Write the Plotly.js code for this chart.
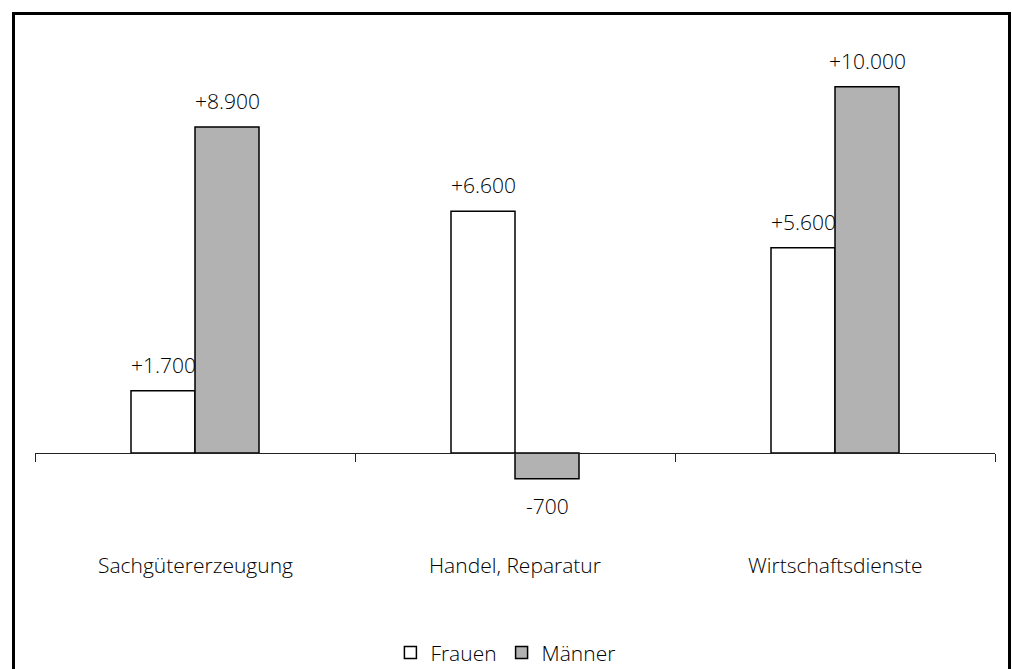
<!DOCTYPE html>
<html>
<head>
<meta charset="utf-8">
<script src="https://cdn.plot.ly/plotly-3.0.1.min.js"></script>
<style>
  html, body { margin: 0; padding: 0; background: #fff; overflow: hidden; }
  #chart { width: 1012px; height: 669px; }
  #frame {
    position: absolute; left: 12px; top: 12px;
    width: 993px; height: 700px;
    border: 3px solid #000; pointer-events: none;
  }
</style>
</head>
<body>
<div id="chart"></div>
<div id="frame"></div>
<script>
// Sectors and employment change by sex
const categories = ['Sachgütererzeugung', 'Handel, Reparatur', 'Wirtschaftsdienste'];
const frauen = [1700, 6600, 5600];
const maenner = [8900, -700, 10000];

const yRange = [-2700, 11000];
const barGap = 0.6;
const barWidth = (1 - barGap) / 2;   // width of one bar in category units
const FONT = 'Open Sans, DejaVu Sans, sans-serif';
const TEXT = '#000';
const FSIZE = 21;

// German number format with explicit sign: +8.900, -700
function fmt(v) {
  const s = Math.abs(v).toString().replace(/\B(?=(\d{3})+(?!\d))/g, '.');
  return (v < 0 ? '-' : '+') + s;
}

const idx = categories.map((_, i) => i);

const traces = [
  {
    type: 'bar', name: 'Frauen', x: idx, y: frauen,
    marker: { color: '#ffffff', line: { color: '#000', width: 1.5 } },
    hoverinfo: 'skip'
  },
  {
    type: 'bar', name: 'Männer', x: idx, y: maenner,
    marker: { color: '#b2b2b2', line: { color: '#000', width: 1.5 } },
    hoverinfo: 'skip'
  }
];

// value labels above (or below) each bar
const annotations = [];
[[frauen, -1], [maenner, 1]].forEach(([vals, side]) => {
  vals.forEach((v, i) => {
    annotations.push({
      x: i + side * barWidth / 2, y: v, xref: 'x', yref: 'y',
      text: fmt(v), showarrow: false,
      yanchor: v >= 0 ? 'bottom' : 'top',
      yshift: v >= 0 ? 10 : -11,
      font: { family: FONT, size: FSIZE, color: TEXT, weight: 300 }
    });
  });
});

// category names below the axis
categories.forEach((c, i) => {
  annotations.push({
    x: i, y: -0.026, xref: 'x', yref: 'paper', yanchor: 'middle',
    text: c, showarrow: false,
    font: { family: FONT, size: FSIZE, color: TEXT, weight: 300 }
  });
});

// category boundaries for the axis tick marks
const bounds = [];
for (let i = 0; i <= categories.length; i++) bounds.push(i - 0.5);

const layout = {
  width: 1012, height: 669,
  margin: { l: 35, r: 17, t: 50, b: 117, autoexpand: false },
  paper_bgcolor: '#fff', plot_bgcolor: '#fff',
  barmode: 'group', bargap: barGap, bargroupgap: 0,
  showlegend: true,
  legend: {
    orientation: 'h', x: 0.49, xanchor: 'center', y: -0.201, yanchor: 'middle',
    font: { family: FONT, size: FSIZE, color: TEXT, weight: 300 },
    itemwidth: 30
  },
  xaxis: {
    range: [-0.5, categories.length - 0.5],
    anchor: 'free',
    position: (0 - yRange[0]) / (yRange[1] - yRange[0]),
    showline: true, linecolor: '#222', linewidth: 1,
    ticks: 'outside', ticklen: 8, tickcolor: '#222', tickwidth: 1,
    tickvals: bounds, showticklabels: false,
    showgrid: false, zeroline: false, fixedrange: true
  },
  yaxis: {
    range: yRange, visible: false, showgrid: false, zeroline: false, fixedrange: true
  },
  annotations: annotations
};

Plotly.newPlot('chart', traces, layout, { displayModeBar: false, staticPlot: true });
</script>
</body>
</html>
